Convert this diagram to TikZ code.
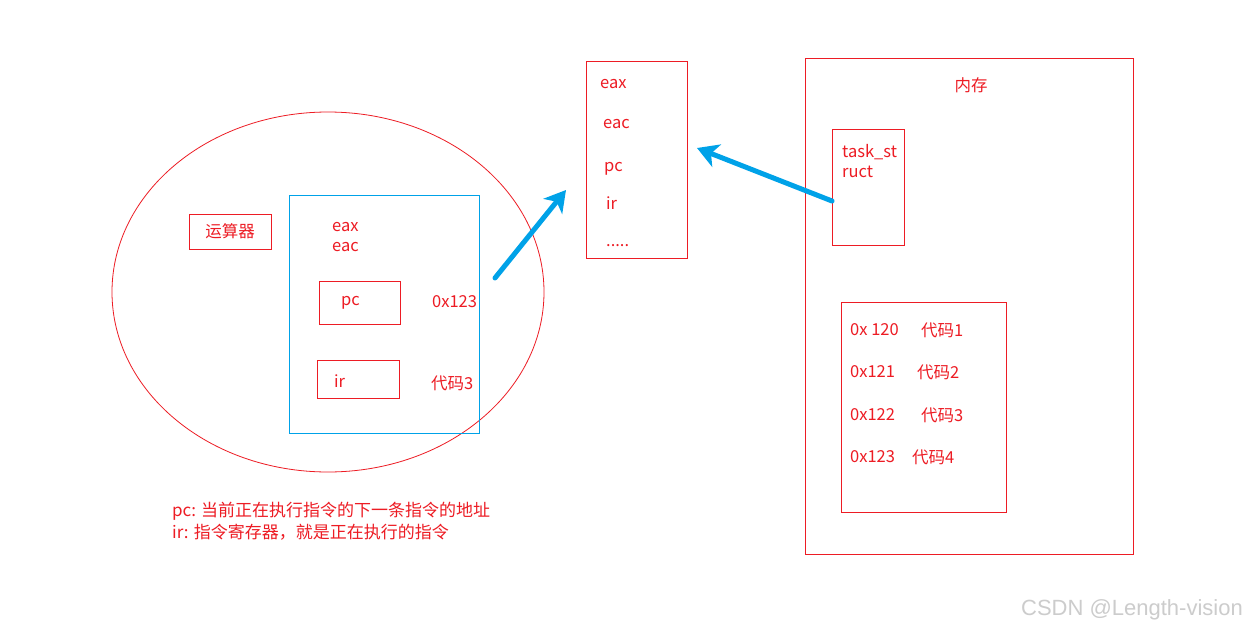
\documentclass[tikz,border=0pt]{standalone}
\usepackage{fontspec}
\setmainfont{Noto Sans CJK SC}
\newfontfamily\wmfont{Liberation Sans}
\usetikzlibrary{shapes.geometric,arrows.meta}
\definecolor{myred}{RGB}{237,28,36}
\definecolor{myblue}{RGB}{0,162,232}
\tikzset{
  box/.style={draw=myred, line width=1pt, rectangle, inner sep=0pt},
  lbl/.style={text=myred, inner sep=0pt, anchor=west, font=\fontsize{16.5}{20}\selectfont},
  bigarrow/.style={draw=myblue, line width=5pt, line cap=round, -{Stealth[length=21pt,width=24pt,inset=6pt]}}
}
\begin{document}
\begin{tikzpicture}[x=1pt,y=-1pt]
\useasboundingbox[fill=white] (0,0) rectangle (1248,629);
% CPU ellipse
\node[draw=myred, line width=0.8pt, ellipse, minimum width=432, minimum height=360, inner sep=0pt] (cpu) at (328,292) {};
\node[box, minimum width=82, minimum height=35, text=myred, font=\fontsize{16.5}{20}\selectfont] (alu) at (230,231.5) {运算器};
\node[draw=myblue, line width=1pt, minimum width=190, minimum height=238, inner sep=0pt] (regs) at (384,314) {};
\node[lbl] (eax1) at (332,227) {eax};
\node[lbl] (eac1) at (332,247) {eac};
\node[box, minimum width=81, minimum height=43] (pcbox) at (359.5,302.5) {};
\node[lbl] (pc1) at (341,303) {pc};
\node[lbl] (pcval) at (432,302) {0x123};
\node[box, minimum width=82, minimum height=38] (irbox) at (358,379) {};
\node[lbl] (ir1) at (334,381) {ir};
\node[lbl] (irval) at (431,383) {代码3};
% saved registers
\node[box, minimum width=101, minimum height=197] (save) at (636.5,159.5) {};
\node[lbl] (eax2) at (600,84) {eax};
\node[lbl] (eac2) at (603,124) {eac};
\node[lbl] (pc2) at (604,169) {pc};
\node[lbl] (ir2) at (606,203) {ir};
\node[lbl] (dots) at (606,246) {.....};
% memory
\node[box, minimum width=328, minimum height=496] (mem) at (969,306) {};
\node[lbl, anchor=center] (memt) at (971,85) {内存};
\node[box, minimum width=72, minimum height=116] (task) at (868,187) {};
\node[lbl] (task1) at (842,152) {task\_st};
\node[lbl] (task2) at (842,172) {ruct};
\node[box, minimum width=165, minimum height=210] (code) at (923.5,407) {};
\node[lbl] (c1a) at (850,330) {0x 120};
\node[lbl] (c1b) at (921,330) {代码1};
\node[lbl] (c2a) at (850,372) {0x121};
\node[lbl] (c2b) at (917,372) {代码2};
\node[lbl] (c3a) at (850,415) {0x122};
\node[lbl] (c3b) at (921,415) {代码3};
\node[lbl] (c4a) at (850,457) {0x123};
\node[lbl] (c4b) at (912,457) {代码4};
% arrows
\coordinate (a1s) at (495,278);
\coordinate (a1e) at (566,190);
\coordinate (a2s) at (832,201);
\coordinate (a2e) at (697,148);
\draw[bigarrow] (a1s) -- (a1e);
\draw[bigarrow] (a2s) -- (a2e);
% notes
\node[lbl, font=\fontsize{17}{21}\selectfont] (note1) at (172,511) {pc: 当前正在执行指令的下一条指令的地址};
\node[lbl, font=\fontsize{17}{21}\selectfont] (note2) at (172,532) {ir: 指令寄存器，就是正在执行的指令};
\node[text=black!20, inner sep=0pt, anchor=east, font=\wmfont\fontsize{22}{26}\selectfont] (wm) at (1243,610) {CSDN @Length-vision};
\end{tikzpicture}
\end{document}
